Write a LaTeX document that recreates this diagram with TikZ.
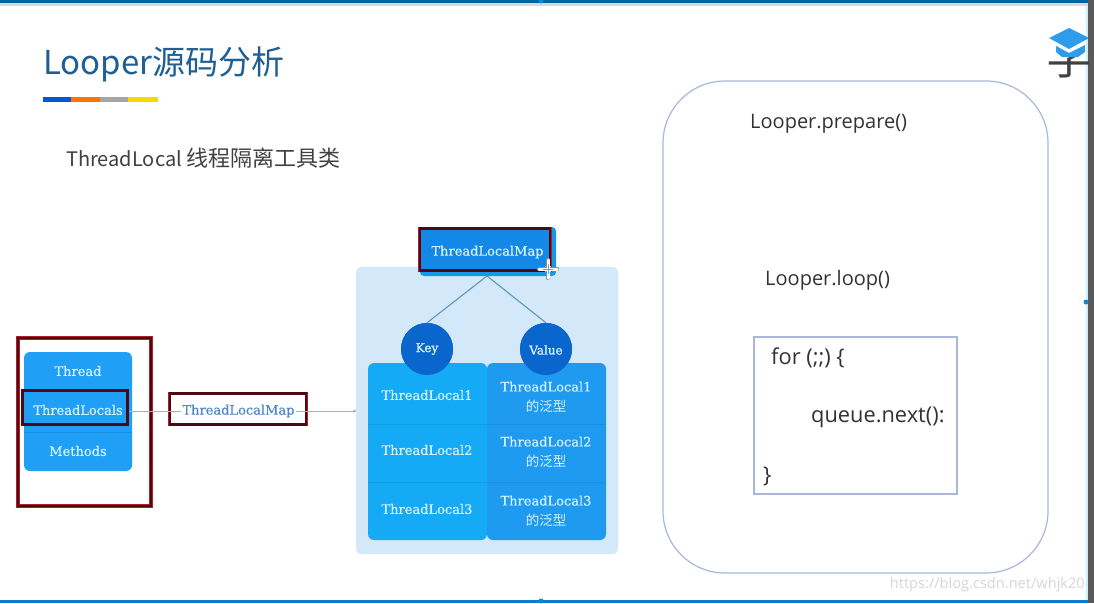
\documentclass[tikz,border=0pt]{standalone}
\usepackage{fontspec}
\setmainfont{Noto Sans CJK SC}
\newfontfamily\slab[FakeBold=0.35]{DejaVu Serif}
\newfontfamily\slabb[FakeBold=1.2]{DejaVu Serif}
\newfontfamily\cjk{Noto Sans CJK SC}
\newfontfamily\ui{Open Sans}
\usetikzlibrary{arrows.meta,calc}
\definecolor{panel}{HTML}{D3E9FA}
\definecolor{cellA}{HTML}{14AAF5}
\definecolor{cellB}{HTML}{1E9BF0}
\definecolor{leftbox}{HTML}{1F9FF5}
\definecolor{mapbox}{HTML}{1488E6}
\definecolor{circ}{HTML}{0A66CC}
\definecolor{wine}{HTML}{4E0812}
\definecolor{winefringe}{HTML}{B01C2C}
\definecolor{linkc}{HTML}{8DBBE0}
\definecolor{treec}{HTML}{5E94BE}
\definecolor{framec}{HTML}{A9B8D8}
\definecolor{titlec}{HTML}{1F5F96}
\definecolor{celltxt}{HTML}{D6F1FF}
\definecolor{capc}{HTML}{2E9BEB}
\definecolor{labtxt}{HTML}{4F86C6}
\tikzset{
  px/.style={x=1pt,y=-1pt},
  redbox/.style={draw=wine,line width=2.2pt,inner sep=0pt,preaction={draw=winefringe,line width=3.2pt}},
  celltext/.style={text=celltxt,font=\slab\fontsize{13}{20}\selectfont,align=center},
  keyc/.style={circle,fill=circ,minimum size=52pt,inner sep=0pt,text=celltxt,font=\slabb\fontsize{12}{14}\selectfont},
  slidetext/.style={text=black!80,font=\ui\fontsize{20}{24}\selectfont,anchor=west,inner sep=0pt},
  codetext/.style={slidetext,font=\ui\fontsize{21.8}{24}\selectfont},
  conn/.style={draw=linkc,line width=1pt},
  thinframe/.style={draw=framec,line width=1.2pt},
}
\newcommand{\gen}{{\cjk\fontsize{13.5}{20}\selectfont 的泛型}}
\begin{document}
\begin{tikzpicture}[px]
\useasboundingbox (0,0) rectangle (1094,603);
\fill[white] (0,0) rectangle (1094,603);
% window edges
\fill[black!15] (0,3) rectangle (1088,6);
\fill[black!65!blue!60!cyan] (0,0) rectangle (1094,3);
\fill[black!65] (1088,0) rectangle (1094,603);
\fill[cyan!20] (1086,6) rectangle (1088,603);
\fill[cyan!60!blue] (0,600) rectangle (1088,603);
\fill[cyan!70!blue] (541,1) circle (2.5);
\fill[cyan!70!blue] (1086,302) circle (2.5);
\fill[cyan!70!blue] (541,601) circle (2.5);
% title
\node[anchor=west,inner sep=0pt,text=titlec,font=\cjk\fontsize{33}{36}\selectfont] (title) at (43,64) {Looper源码分析};
\fill[blue!60!cyan!85!black] (43,97) rectangle (71,102);
\fill[orange!90!red] (71,97) rectangle (100,102);
\fill[black!35] (100,97) rectangle (128,102);
\fill[yellow!75!orange] (128,97) rectangle (158,102);
\node[anchor=west,inner sep=0pt,text=black!75,font=\cjk\fontsize{20}{24}\selectfont] (sub) at (66,158) {ThreadLocal {\fontsize{22}{24}\selectfont 线程隔离工具类}};
% logo
\begin{scope}
\clip (1040,57) rectangle (1088,90);
\node[anchor=center,inner sep=0pt,text=black!75,font=\cjk\fontsize{46}{48}\selectfont] (xue) at (1069,57) {学};
\end{scope}
\begin{scope}
\clip (1040,20) rectangle (1088,90);
\fill[capc] (1049,38) -- (1069,28) -- (1089,38) -- (1069,49) -- cycle;
\fill[capc] (1056,46) -- (1069,53) -- (1085,45) -- (1085,52) -- (1078,57) -- (1062,57) -- (1056,52) -- cycle;
\end{scope}
% right frame
\draw[thinframe,rounded corners=62pt] (663,81) rectangle (1048,573);
\node[slidetext] (prep) at (750,124) {Looper.prepare()};
\node[slidetext] (loop) at (765,280) {Looper.loop()};
\draw[thinframe] (754,337) rectangle (957,494);
\node[codetext] (for) at (771,358) {for (;;) \{};
\node[codetext] (next) at (811,417) {queue.next():};
\node[codetext] (end) at (763,476) {\}};
% panel
\fill[panel,rounded corners=5pt] (356,267) rectangle (618,554);
\coordinate (panelL) at (356,411);
% map box
\fill[mapbox!85!cyan,rounded corners=4pt] (420,227) rectangle (556,276);
\node[redbox,minimum width=130pt,minimum height=42pt,fill=mapbox] (map) at (485,249.5) {};
\node[text=celltxt,inner sep=0pt,font=\slab\fontsize{13}{15}\selectfont] (mapT) at (487.5,252) {ThreadLocalMap};
% connectors to circles
\coordinate (apex) at (487,276);
\node[keyc] (key) at (427,349) {};
\node[keyc] (val) at (546,349) {};
\draw[draw=treec,line width=1.1pt] (apex) -- (key.north);
\draw[draw=treec,line width=1.1pt] (apex) -- (val.north);
% key/value cells
\fill[cellA,rounded corners=6pt] (368,363) rectangle (487,540);
\fill[cellB,rounded corners=6pt] (487,363) rectangle (606,540);
\draw[cellA!92!black,line width=.4pt] (368,424) -- (487,424) (368,482) -- (487,482);
\draw[cellB!92!black,line width=.4pt] (487,424) -- (606,424) (487,482) -- (606,482);
\fill[circ] (key) circle (26);
\fill[circ] (val) circle (26);
\node[text=celltxt,inner sep=0pt,font=\slabb\fontsize{12}{14}\selectfont] (keyT) at (427,349) {Key};
\node[text=celltxt,inner sep=0pt,font=\slabb\fontsize{12}{14}\selectfont] (valT) at (546,350) {Value};
\node[celltext] (k1) at (427,395) {ThreadLocal1};
\node[celltext] (k2) at (427,450) {ThreadLocal2};
\node[celltext] (k3) at (427,509) {ThreadLocal3};
\node[celltext] (v1) at (546,397) {ThreadLocal1\\\gen};
\node[celltext] (v2) at (546,452) {ThreadLocal2\\\gen};
\node[celltext] (v3) at (546,511) {ThreadLocal3\\\gen};
% left box
\fill[leftbox,rounded corners=6pt] (24,352) rectangle (132,471);
\draw[leftbox!90!black,line width=.4pt] (24,432) -- (132,432);
\node[celltext] (t1) at (78,371) {Thread};
\node[celltext] (t3) at (78,451) {Methods};
\node[redbox,minimum width=105pt,minimum height=34pt] (t2) at (75,407.5) {};
\node[celltext,inner sep=0pt] (t2T) at (78,410) {ThreadLocals};
\draw[redbox] (18,338) rectangle (151,506);
\node[redbox,fill=white,minimum width=136pt,minimum height=31pt] (lab) at (238,409) {};
\node[text=labtxt,fill=white,inner sep=1pt,font=\slab\fontsize{13}{15}\selectfont] (labT) at (238.5,411) {ThreadLocalMap};
\draw[conn] (t2.east |- labT) -- (labT);
\draw[conn,-{Circle[length=3pt]}] (labT) -- (panelL);
% cursor
\node[circle,fill=black!25,minimum size=8pt,inner sep=0pt] (cur) at (548,269) {};
\draw[black!45,line width=4.2pt,line cap=round] (539,269) -- (557,269) (548,260) -- (548,278);
\draw[white,line width=3pt,line cap=round] (539,269) -- (557,269) (548,260) -- (548,278);
\draw[mapbox!70,line width=1pt] (543,269) -- (553,269) (548,264) -- (548,274);
% watermark
\node[anchor=east,inner sep=0pt,text=black!16,font=\ui\fontsize{14.6}{18}\selectfont] (wm) at (1085,585) {https://blog.csdn.net/whjk20};
\end{tikzpicture}
\end{document}
